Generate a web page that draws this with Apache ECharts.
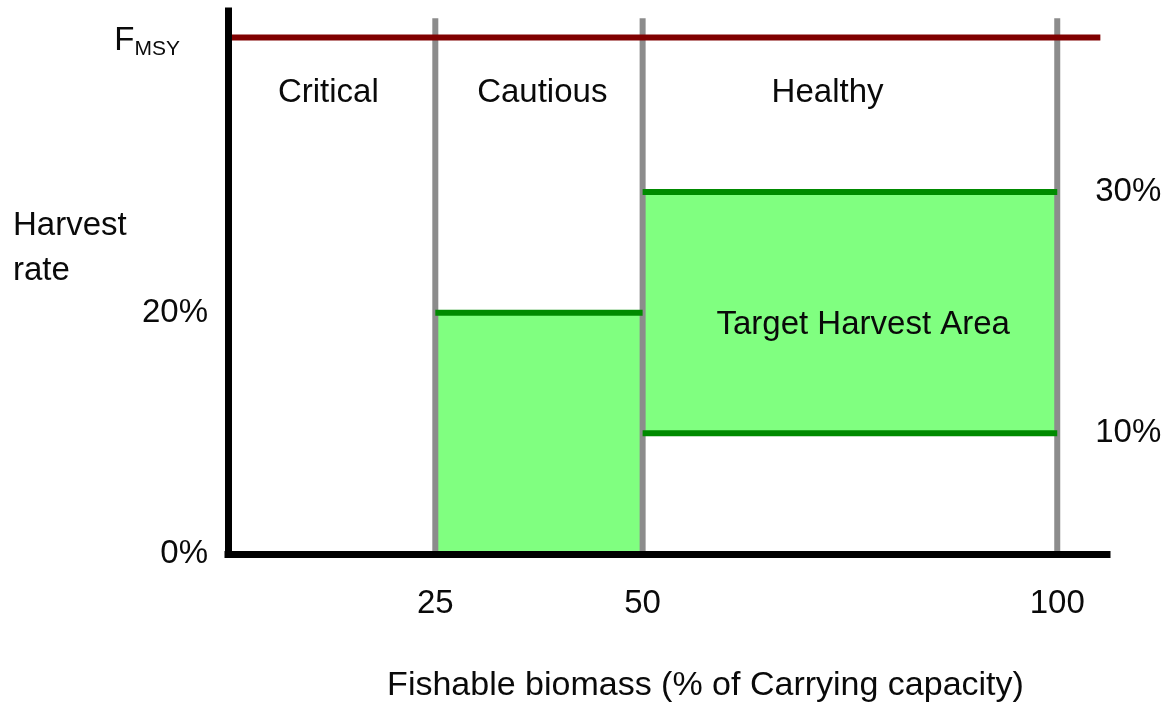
<!DOCTYPE html>
<html>
<head>
<meta charset="utf-8">
<script src="https://cdn.jsdelivr.net/npm/echarts@6/dist/echarts.min.js"></script>
<style>
  html, body { margin: 0; padding: 0; background: #fff; }
  #chart { width: 1174px; height: 702px; }
</style>
</head>
<body>
<div id="chart"></div>
<script>
// ---- harvest control rule data ----
const zoneNames = ['Critical', 'Cautious', 'Healthy'];
const zoneBounds = [25, 50, 100];            // biomass (% of carrying capacity)
const xTicks = [25, 50, 100];
const yTicks = [0, 20];                      // harvest rate (%)
const fmsyRate = 42.8;                       // F at maximum sustainable yield
const cautiousBox = [25, 50, 0, 20];         // [xFrom, xTo, rateFrom, rateTo]
const healthyBox = [50, 100, 10, 30];
const targetLabel = 'Target Harvest Area';

// ---- layout ----
const X_MAX = 106, Y_MAX = 45;
const BOUND_TOP = 44.4;                      // top of the zone divider lines
const zoneLabelAnchor = [[12.1, 38.2], [37.9, 38.2], [72.3, 38.2]];
const targetLabelAnchor = [76.6, 19.0];

const FONT = "'Liberation Sans', Arial, sans-serif";
const TXT = '#0a0a0a';
const GREEN_FILL = '#80ff80';
const GREEN_LINE = '#008a00';
const GREY = '#8c8c8c';

const chart = echarts.init(document.getElementById('chart'), null, { renderer: 'canvas' });

function hLine(x0, x1, y, withEndLabel) {
  return {
    type: 'line', z: 4, symbol: 'none', silent: true,
    data: [[x0, y], [x1, y]],
    lineStyle: { color: GREEN_LINE, width: 6, cap: 'butt' },
    endLabel: withEndLabel ? {
      show: true, distance: 38,
      formatter: p => p.value[1] + '%',
      fontFamily: FONT, fontSize: 33, color: TXT
    } : { show: false }
  };
}

function textPoints(points) {
  return {
    type: 'scatter', z: 6, symbolSize: 0, silent: true,
    itemStyle: { opacity: 1 },
    data: points,
    label: {
      show: true, position: 'inside', formatter: p => p.name,
      fontFamily: FONT, fontSize: 33, color: TXT, opacity: 1
    }
  };
}

const series = [
  // shaded target harvest regions
  {
    type: 'custom', z: 1, silent: true,
    data: [cautiousBox, healthyBox],
    encode: { x: [0, 1], y: [2, 3] },
    renderItem: function (params, api) {
      const a = api.coord([api.value(0), api.value(3)]);
      const b = api.coord([api.value(1), api.value(2)]);
      return {
        type: 'rect',
        shape: { x: a[0], y: a[1], width: b[0] - a[0], height: b[1] - a[1] },
        style: { fill: GREEN_FILL }
      };
    }
  },
  // zone dividers
  ...zoneBounds.map(b => ({
    type: 'line', z: 3, symbol: 'none', silent: true,
    data: [[b, 0], [b, BOUND_TOP]],
    lineStyle: { color: GREY, width: 6, cap: 'butt' }
  })),
  // harvest rate limits
  hLine(cautiousBox[0], cautiousBox[1], cautiousBox[3], false),
  hLine(healthyBox[0], healthyBox[1], healthyBox[3], true),
  hLine(healthyBox[0], healthyBox[1], healthyBox[2], true),
  // F_MSY reference line
  {
    type: 'line', z: 5, symbol: 'none', silent: true,
    data: [[0, fmsyRate], [105.2, fmsyRate]],
    lineStyle: { color: '#800000', width: 6, cap: 'butt' }
  },
  {
    type: 'scatter', z: 6, symbolSize: 0, silent: true,
    itemStyle: { opacity: 1 },
    data: [[0, fmsyRate]],
    label: {
      show: true, position: 'left', distance: 48, offset: [0, 6],
      formatter: '{f|F}{s|MSY}',
      rich: {
        f: { fontFamily: FONT, fontSize: 33, color: TXT, lineHeight: 33, padding: [0, 0, 5, 0] },
        s: { fontFamily: FONT, fontSize: 21, color: TXT, lineHeight: 20, verticalAlign: 'bottom' }
      }
    }
  },
  // zone names
  textPoints(zoneNames.map((n, i) => ({ value: zoneLabelAnchor[i], name: n }))),
  // target area caption
  textPoints([{ value: targetLabelAnchor, name: targetLabel }])
];

chart.setOption({
  animation: false,
  backgroundColor: '#ffffff',
  grid: {
    left: 228, top: 11, width: 879, height: 543,
    containLabel: false, outerBoundsMode: 'none'
  },
  xAxis: {
    type: 'value', min: 0, max: X_MAX, z: 10,
    name: 'Fishable biomass (% of Carrying capacity)',
    nameLocation: 'middle', nameGap: 115,
    nameTextStyle: { fontFamily: FONT, fontSize: 34, color: TXT, padding: [0, 0, 0, 76] },
    axisLine: { show: true, lineStyle: { color: '#000', width: 7, cap: 'square' } },
    axisTick: { show: false },
    splitLine: { show: false },
    axisLabel: {
      customValues: xTicks, margin: 33,
      fontFamily: FONT, fontSize: 33, color: TXT
    }
  },
  yAxis: {
    type: 'value', min: 0, max: Y_MAX, z: 10,
    axisLine: { show: true, lineStyle: { color: '#000', width: 7, cap: 'square' } },
    axisTick: { show: false },
    splitLine: { show: false },
    axisLabel: {
      customValues: yTicks, margin: 20,
      formatter: v => v + '%',
      fontFamily: FONT, fontSize: 33, color: TXT
    }
  },
  graphic: [{
    type: 'text', left: 13, top: 203, silent: true,
    style: {
      text: 'Harvest\nrate', fontFamily: FONT, fontSize: 33,
      lineHeight: 45, fill: TXT
    }
  }],
  series: series
});
</script>
</body>
</html>
